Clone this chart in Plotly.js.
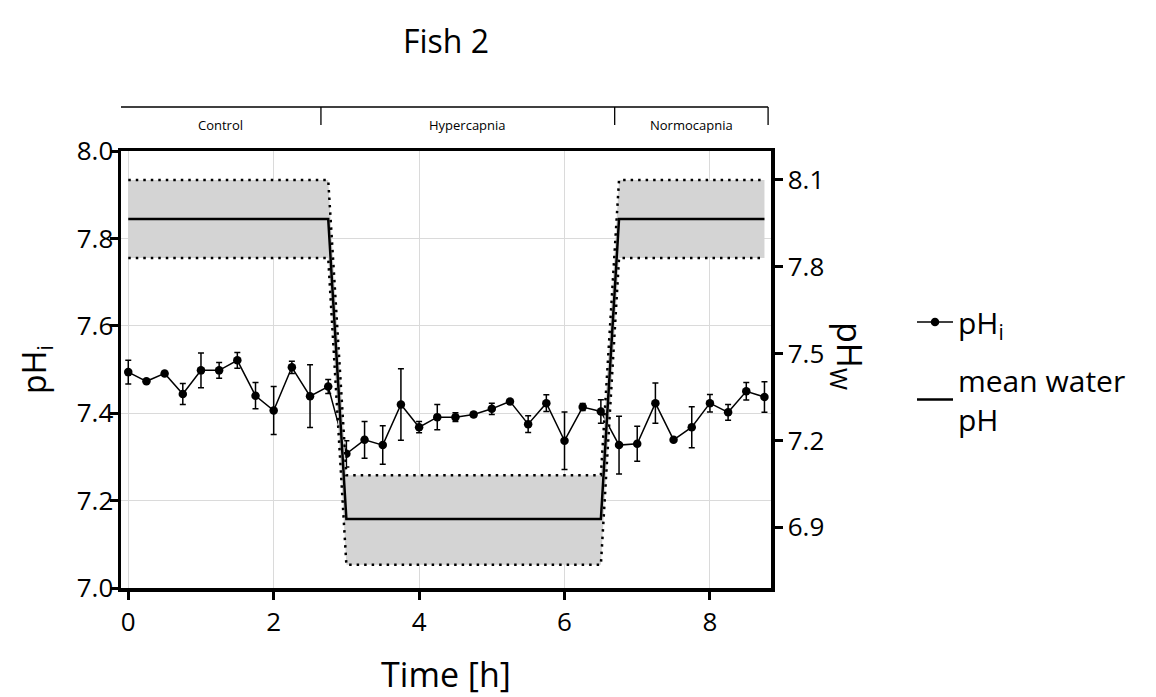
<!DOCTYPE html>
<html><head><meta charset="utf-8">
<script src="https://cdn.plot.ly/plotly-3.0.1.min.js"></script>
<style>html,body{margin:0;padding:0;background:#fff;}#chart{width:1156px;height:697px;}</style>
</head><body><div id="chart"></div>
<script>
const timeH = [0,0.25,0.5,0.75,1,1.25,1.5,1.75,2,2.25,2.5,2.75,3,3.25,3.5,3.75,4,4.25,4.5,4.75,5,5.25,5.5,5.75,6,6.25,6.5,6.75,7,7.25,7.5,7.75,8,8.25,8.5,8.75];
const pHi = [7.494,7.473,7.491,7.444,7.498,7.498,7.521,7.440,7.406,7.505,7.439,7.461,7.307,7.339,7.327,7.420,7.368,7.391,7.391,7.397,7.410,7.427,7.375,7.423,7.337,7.414,7.404,7.327,7.330,7.423,7.339,7.368,7.423,7.402,7.450,7.437];
const pHiErr = [0.027,0,0,0.024,0.04,0.018,0.018,0.03,0.055,0.014,0.072,0.016,0.03,0.042,0.044,0.082,0.013,0.029,0.01,0.005,0.013,0,0.019,0.019,0.066,0.008,0.027,0.066,0.04,0.046,0,0.047,0.02,0.018,0.02,0.035];
const waterTime = [0,2.75,3.0,6.5,6.75,8.75];
const waterMean = [7.965,7.965,6.928,6.928,7.965,7.965];
const waterUpper = [8.10,8.10,7.08,7.08,8.10,8.10];
const waterLower = [7.83,7.83,6.77,6.77,7.83,7.83];
const phaseLabels = ['Control','Hypercapnia','Normocapnia'];
const phaseBounds = [-0.12,2.65,6.69,8.8];
const leftTicks = [7.0,7.2,7.4,7.6,7.8,8.0];
const rightTicks = [6.9,7.2,7.5,7.8,8.1];
const xTicks = [0,2,4,6,8];

const FONT = 'Open Sans, sans-serif';
const traces = [
  {x: waterTime, y: waterLower, yaxis: 'y2', mode: 'lines', showlegend: false, hoverinfo: 'skip',
   line: {color: '#000', width: 2.5, dash: '2.5px,5px'}},
  {x: waterTime, y: waterUpper, yaxis: 'y2', mode: 'lines', showlegend: false, hoverinfo: 'skip',
   fill: 'tonexty', fillcolor: '#d4d4d4',
   line: {color: '#000', width: 2.5, dash: '2.5px,5px'}},
  {x: waterTime, y: waterMean, yaxis: 'y2', mode: 'lines', name: 'mean water<br>pH',
   legendgroup: 'g2', legendrank: 2,
   line: {color: '#000', width: 2.5}},
  {x: timeH, y: pHi, yaxis: 'y', mode: 'lines+markers', name: 'pH<sub>i</sub>',
   legendgroup: 'g1', legendrank: 1,
   line: {color: '#000', width: 1.5}, marker: {color: '#000', size: 8.5},
   error_y: {type: 'data', array: pHiErr, visible: true, color: '#000', thickness: 1.5, width: 3}}
];

const shapes = [];
const annotations = [];
const yTop = 1.1007, yLow = 1.0595;
shapes.push({type: 'line', xref: 'x', yref: 'paper', x0: phaseBounds[0], x1: phaseBounds[phaseBounds.length-1], y0: yTop, y1: yTop, line: {color: '#000', width: 1.3}});
phaseBounds.forEach(b => shapes.push({type: 'line', xref: 'x', yref: 'paper', x0: b, x1: b, y0: yTop, y1: yLow, line: {color: '#000', width: 1.3}}));
phaseLabels.forEach((lab, i) => annotations.push({xref: 'x', yref: 'paper', x: (phaseBounds[i] + phaseBounds[i+1]) / 2, y: 1.06, text: lab, showarrow: false, yanchor: 'middle', font: {family: FONT, size: 13, color: '#000'}}));
annotations.push({xref: 'paper', yref: 'paper', x: (848 - 121) / 650, y: (588 - 356) / 437, text: 'pH<sub>W</sub>', textangle: 90, showarrow: false, xanchor: 'center', yanchor: 'middle', font: {family: FONT, size: 34, color: '#000'}});

const axisCommon = {showline: true, linecolor: '#000', linewidth: 3.5, ticks: 'outside', ticklen: 8, tickwidth: 3, tickcolor: '#000', zeroline: false, tickfont: {family: FONT, size: 26, color: '#000'}};

const layout = {
  width: 1156, height: 697,
  margin: {l: 121, r: 385, t: 151, b: 109},
  paper_bgcolor: '#fff', plot_bgcolor: '#fff',
  font: {family: FONT, color: '#000'},
  title: {text: 'Fish 2', x: 0.5, xref: 'paper', y: 1 - 42 / 697, yref: 'container', yanchor: 'middle', font: {family: FONT, size: 32, color: '#000'}},
  xaxis: Object.assign({}, axisCommon, {range: [-0.1, 8.84], tickvals: xTicks, mirror: true, showgrid: true, gridcolor: '#dadada', gridwidth: 1,
    title: {text: 'Time [h]', standoff: 35, font: {family: FONT, size: 34, color: '#000'}}}),
  yaxis: Object.assign({}, axisCommon, {range: [7.0, 8.0], tickvals: leftTicks, tickformat: '.1f', mirror: true, showgrid: true, gridcolor: '#dadada', gridwidth: 1,
    ticklabelstandoff: -9,
    title: {text: 'pH<sub>i</sub>', standoff: 21, font: {family: FONT, size: 32, color: '#000'}}}),
  yaxis2: Object.assign({}, axisCommon, {overlaying: 'y', side: 'right', range: [6.69, 8.2], tickvals: rightTicks, tickformat: '.1f', showgrid: false}),
  legend: {x: (912 - 121) / 650, xanchor: 'left', y: (588 - 296) / 437, yanchor: 'top', font: {family: FONT, size: 30, color: '#000'}, bgcolor: 'rgba(0,0,0,0)', tracegroupgap: 16, traceorder: 'grouped', itemwidth: 36},
  shapes: shapes,
  annotations: annotations,
  showlegend: true
};

Plotly.newPlot('chart', traces, layout, {displayModeBar: false, staticPlot: true});
</script>
</body></html>
